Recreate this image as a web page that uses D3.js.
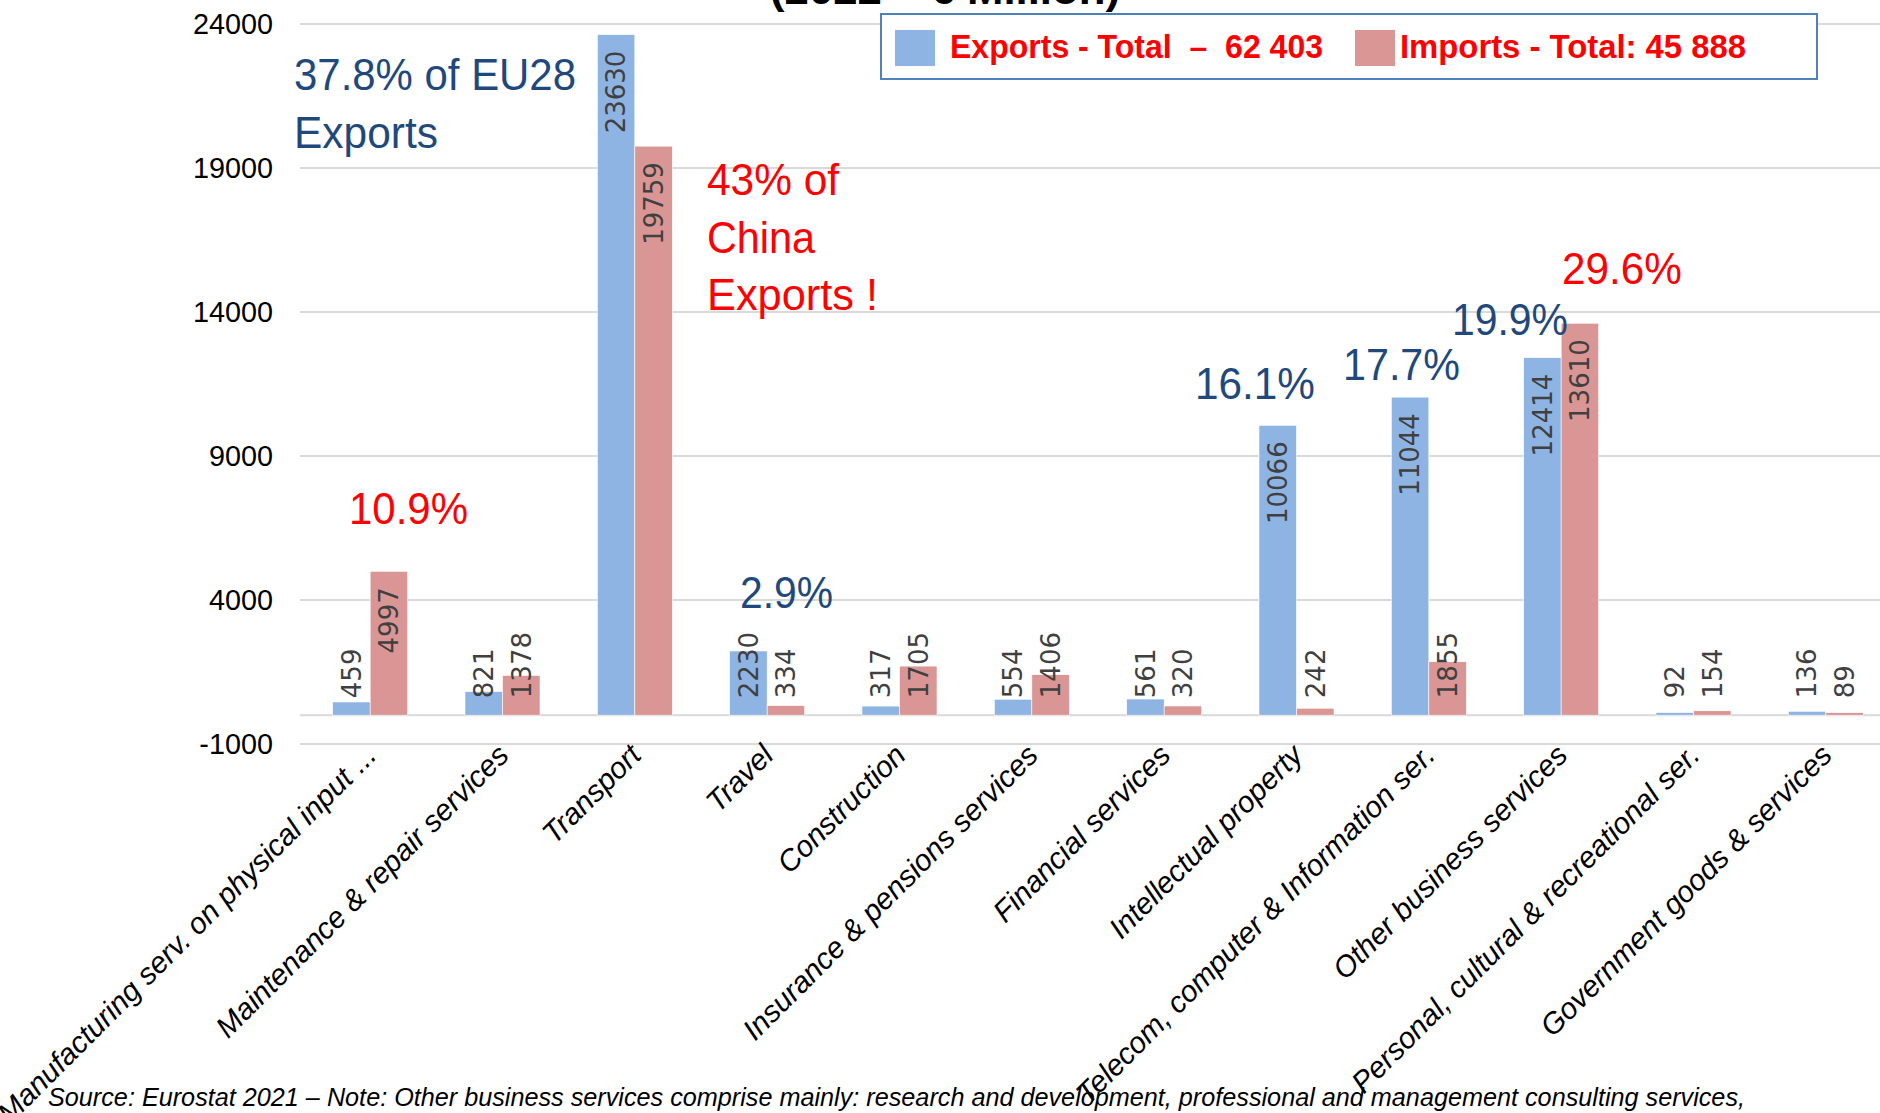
<!DOCTYPE html>
<meta charset="utf-8">
<style>
body {
  margin: 0;
  background: #fff;
}
svg { display: block; }
</style>
<body>
<script src="https://d3js.org/d3.v7.min.js"></script>
<script>
// services trade EU-China, 2022, EUR million
var categories = ["Manufacturing serv. on physical input ...", "Maintenance & repair services", "Transport",
  "Travel", "Construction", "Insurance & pensions services", "Financial services", "Intellectual property",
  "Telecom, computer & Information ser.", "Other business services", "Personal, cultural & recreational ser.",
  "Government goods & services"];
var exportVals = [459, 821, 23630, 2230, 317, 554, 561, 10066, 11044, 12414, 92, 136];
var importVals = [4997, 1378, 19759, 334, 1705, 1406, 320, 242, 1855, 13610, 154, 89];
var yTicks = [-1000, 4000, 9000, 14000, 19000, 24000];
var seriesNames = ["Exports - Total  \u2013  62 403", "Imports - Total: 45 888"];
var titleText = "(2022 \u2013 \u20ac Million)";
var sourceText = "Source: Eurostat 2021 \u2013 Note: Other business services comprise mainly: research and development, professional and management consulting services,";
var noteLines = [["37.8% of EU28", "Exports"], ["43% of", "China", "Exports !"], ["10.9%"], ["2.9%"],
  ["16.1%"], ["17.7%"], ["19.9%"], ["29.6%"]];

var W = 1880, H = 1113;
var plot = {left: 304, right: 1892, top: 24, bottom: 744};
var blue = "#8EB4E3", pink = "#D99694", navy = "#1F497D", red = "#FF0000";

var svg = d3.select("body").append("svg")
    .attr("width", W)
    .attr("height", H);

var y = d3.scaleLinear()
    .domain([-1000, 24000])
    .range([plot.bottom, plot.top]);

var x0 = d3.scaleBand()
    .domain(categories)
    .range([plot.left, plot.right]);

var x1 = d3.scaleBand()
    .domain(["exp", "imp"])
    .range([0, x0.bandwidth()])
    .paddingOuter(0.764);

// gridlines
svg.append("g").selectAll("line")
    .data(yTicks)
  .enter().append("line")
    .attr("x1", plot.left - 4)
    .attr("x2", W)
    .attr("y1", function(d) { return y(d); })
    .attr("y2", function(d) { return y(d); })
    .style("stroke", "#d9d9d9")
    .style("stroke-width", 2);

// category axis line at zero
svg.append("line")
    .attr("x1", plot.left - 4)
    .attr("x2", W)
    .attr("y1", y(0))
    .attr("y2", y(0))
    .style("stroke", "#d9d9d9")
    .style("stroke-width", 2);

var yAxis = svg.append("g")
    .attr("transform", "translate(" + (plot.left - 4) + ",0)")
    .call(d3.axisLeft(y).tickValues(yTicks).tickSize(0).tickPadding(27)
      .tickFormat(function(d) { return String(d); }));
yAxis.select(".domain").remove();
yAxis.selectAll("text")
    .style("font", "28.8px 'Liberation Sans', Arial, sans-serif")
    .style("fill", "#000");

var rows = categories.map(function(c, i) {
  return {cat: c, vals: [{k: "exp", v: exportVals[i]}, {k: "imp", v: importVals[i]}]};
});

var groups = svg.append("g").selectAll("g")
    .data(rows)
  .enter().append("g")
    .attr("transform", function(d) { return "translate(" + x0(d.cat) + ",0)"; });

groups.selectAll("rect")
    .data(function(d) { return d.vals; })
  .enter().append("rect")
    .attr("x", function(d) { return x1(d.k); })
    .attr("width", x1.bandwidth())
    .attr("y", function(d) { return y(d.v); })
    .attr("height", function(d) { return y(0) - y(d.v); })
    .style("fill", function(d) { return d.k == "exp" ? blue : pink; })
    .style("stroke", "#fff")
    .style("stroke-width", 0.6);

// data labels, vertical
groups.selectAll("text")
    .data(function(d) { return d.vals; })
  .enter().append("text")
    .style("font", "26px 'DejaVu Sans', sans-serif")
    .style("fill", "#404040")
    .attr("dy", "0.36em")
    .text(function(d) { return d.v; })
    .each(function(d) {
      var t = d3.select(this);
      var len = this.getComputedTextLength();
      var cx = x1(d.k) + x1.bandwidth() / 2;
      var h = y(0) - y(d.v);
      if (h >= len + 32) {
        t.attr("text-anchor", "end")
         .attr("transform", "translate(" + cx + "," + (y(d.v) + 16) + ") rotate(-90)");
      } else {
        t.attr("text-anchor", "start")
         .attr("transform", "translate(" + cx + "," + (y(0) - 17) + ") rotate(-90)");
      }
    });

// category labels
var catFont = "'Liberation Sans', Arial, sans-serif";
var probe = svg.append("text").style("font", "italic 26px " + catFont).text(categories[11]);
var catSize = 26 * 398 / probe.node().getComputedTextLength();
probe.remove();

svg.append("g").selectAll("text")
    .data(categories)
  .enter().append("text")
    .attr("transform", function(d) {
      return "translate(" + (x0(d) + x0.bandwidth() / 2 + 8) + "," + (plot.bottom + 13) + ") rotate(-45)";
    })
    .attr("text-anchor", "end")
    .style("font", "italic " + catSize + "px " + catFont)
    .style("fill", "#000")
    .text(function(d) { return d; });

// annotations
var noteLayout = [
  {x: 294, y: 90, widths: [282, 144], color: navy},
  {x: 707, y: 195, widths: [132, 108, 171], color: red},
  {x: 349, y: 524, widths: [119], color: red},
  {x: 740, y: 608, widths: [93], color: navy},
  {x: 1195, y: 399, widths: [120], color: navy},
  {x: 1343, y: 380, widths: [117], color: navy},
  {x: 1452, y: 335, widths: [116], color: navy},
  {x: 1562, y: 284, widths: [120], color: red}
];
noteLines.forEach(function(lines, i) {
  var L = noteLayout[i];
  lines.forEach(function(s, j) {
    svg.append("text")
        .attr("x", L.x)
        .attr("y", L.y + j * 57.5)
        .attr("textLength", L.widths[j])
        .attr("lengthAdjust", "spacingAndGlyphs")
        .style("font", "44px 'Liberation Sans', Arial, sans-serif")
        .style("fill", L.color)
        .text(s);
  });
});

// title (cut off at top)
svg.append("text")
    .attr("x", 770)
    .attr("y", 4)
    .attr("textLength", 350)
    .attr("lengthAdjust", "spacingAndGlyphs")
    .style("font", "bold 40px 'Liberation Sans', Arial, sans-serif")
    .style("fill", "#000")
    .text(titleText);

// legend
var legend = svg.append("g");
legend.append("rect")
    .attr("x", 881)
    .attr("y", 14)
    .attr("width", 936)
    .attr("height", 65)
    .style("fill", "#fff")
    .style("stroke", "#4F81BD")
    .style("stroke-width", 2);

var legX = [895, 1355], legTextX = [950, 1400], legW = [373, 346], legColors = [blue, pink];
seriesNames.forEach(function(s, i) {
  legend.append("rect")
      .attr("x", legX[i])
      .attr("y", 30)
      .attr("width", 40)
      .attr("height", 36)
      .style("fill", legColors[i]);
  legend.append("text")
      .attr("x", legTextX[i])
      .attr("y", 58)
      .attr("textLength", legW[i])
      .attr("lengthAdjust", "spacingAndGlyphs")
      .style("white-space", "pre")
      .style("font", "bold 34px 'Liberation Sans', Arial, sans-serif")
      .style("fill", red)
      .text(s);
});

// source note
svg.append("text")
    .attr("x", 48)
    .attr("y", 1106)
    .attr("textLength", 1697)
    .attr("lengthAdjust", "spacingAndGlyphs")
    .style("font", "italic 26px 'Liberation Sans', Arial, sans-serif")
    .style("fill", "#000")
    .text(sourceText);
</script>
